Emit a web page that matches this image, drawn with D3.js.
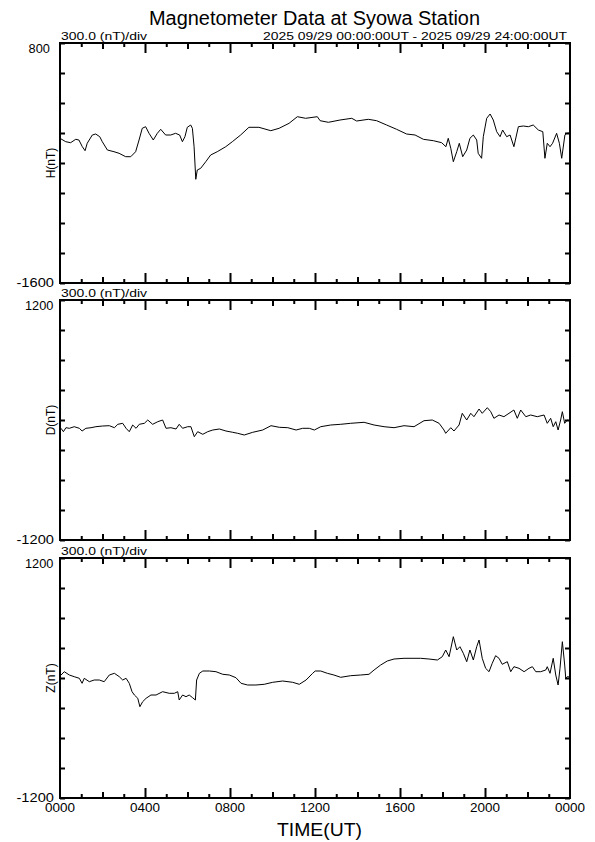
<!DOCTYPE html>
<html><head><meta charset="utf-8">
<script src="https://cdn.jsdelivr.net/npm/d3@7"></script>
<style>
html,body{margin:0;padding:0;background:#fff;}
svg text{font-family:"Liberation Sans",Arial,Helvetica,sans-serif;fill:#000;}
</style></head>
<body>
<script>
// ---- data (hour UT, nT) ----
const hTime=[0,0.27,0.5,0.74,0.89,1.05,1.18,1.28,1.52,1.68,1.87,1.99,2.23,2.54,2.78,3.09,3.33,3.56,3.72,3.87,4.03,4.19,4.39,4.58,4.74,4.97,5.21,5.44,5.63,5.76,5.88,5.99,6.15,6.23,6.31,6.39,6.46,6.62,6.86,7.09,7.4,7.8,8.11,8.5,8.89,9.36,9.92,10.31,10.78,11.17,11.56,12.11,12.24,12.63,13.18,13.73,13.96,14.51,14.9,15.37,15.84,16.31,16.71,17.1,17.57,17.96,18.16,18.27,18.39,18.51,18.67,18.79,18.95,19.14,19.29,19.45,19.61,19.68,19.84,19.92,20.08,20.24,20.39,20.55,20.71,20.83,21.02,21.18,21.36,21.57,21.8,22.04,22.27,22.51,22.72,22.82,22.93,23.06,23.18,23.37,23.5,23.61,23.76,23.84,24];
const hValue=[-153,-187,-197,-163,-170,-237,-277,-203,-120,-110,-137,-187,-270,-287,-303,-337,-337,-287,-170,-53,-37,-103,-170,-103,-63,-120,-120,-103,-120,-187,-137,-43,-20,-53,-237,-563,-470,-453,-387,-320,-287,-237,-187,-120,-43,-43,-77,-53,-3,63,47,63,23,7,30,47,20,37,23,-20,-63,-110,-120,-163,-177,-197,-237,-153,-253,-387,-287,-203,-337,-270,-153,-120,-170,-303,-353,-137,47,90,30,-87,-137,-70,-137,-120,-237,-37,-30,-37,-20,-70,-87,-353,-203,-237,-203,-103,-203,-353,-120,-103,-100];

const dTime=[0.05,0.16,0.28,0.44,0.67,0.91,1.04,1.22,1.46,1.69,2.01,2.32,2.56,2.72,2.95,3.11,3.26,3.42,3.58,3.73,3.97,4.13,4.36,4.6,4.83,4.99,5.22,5.46,5.61,5.77,6.01,6.16,6.32,6.48,6.72,6.95,7.19,7.5,7.81,8.13,8.36,8.67,9.07,9.54,9.93,10.32,10.72,11.11,11.42,11.73,11.97,12.27,12.74,13.21,13.68,14.31,14.78,15.25,15.72,16.19,16.66,17.13,17.52,17.84,18.07,18.15,18.39,18.54,18.78,18.93,19.14,19.33,19.48,19.72,19.87,20.11,20.27,20.42,20.66,20.89,21.13,21.36,21.52,21.68,21.92,22.15,22.46,22.78,22.93,23.09,23.21,23.33,23.44,23.56,23.64,23.75,23.87,24];
const dValue=[-83,-117,-77,-83,-67,-83,-110,-83,-77,-67,-60,-57,-77,-43,-33,-83,-117,-50,-83,-43,-33,0,-43,-17,0,-83,-77,-90,-43,-83,-67,-67,-167,-117,-143,-117,-100,-90,-110,-123,-133,-150,-123,-100,-57,-73,-77,-100,-83,-83,-100,-67,-50,-43,-33,-23,-50,-67,-77,-57,-67,-7,0,-33,-100,-133,-77,-110,-50,67,0,67,33,110,67,123,83,17,50,33,67,100,17,100,33,50,33,50,-33,17,-67,-17,-100,0,83,-33,0,-10];

const zTime=[0.05,0.2,0.44,0.67,0.91,1.04,1.14,1.38,1.61,1.85,2.08,2.32,2.56,2.79,2.95,3.11,3.26,3.39,3.5,3.66,3.76,3.89,4.05,4.28,4.52,4.83,5.14,5.38,5.54,5.61,5.77,5.93,6.08,6.24,6.37,6.43,6.56,6.72,7.03,7.34,7.66,7.97,8.28,8.52,8.83,9.22,9.61,10.01,10.48,10.95,11.26,11.58,11.89,12.01,12.27,12.58,12.89,13.21,13.68,14.15,14.54,14.78,15.09,15.4,15.72,16.19,16.66,16.97,17.36,17.76,17.99,18.15,18.31,18.51,18.67,18.82,18.98,19.14,19.29,19.45,19.61,19.72,19.87,20.03,20.19,20.34,20.5,20.66,20.81,21.05,21.21,21.36,21.6,21.84,22.07,22.23,22.39,22.62,22.86,22.93,23.06,23.21,23.33,23.44,23.53,23.64,23.75,23.8,23.87,24];
const zValue=[30,63,30,13,-3,-53,-3,-37,-20,-20,-37,30,47,13,-20,-3,-53,-137,-170,-203,-287,-237,-203,-170,-170,-137,-153,-153,-137,-220,-170,-187,-170,-197,-220,-20,47,70,70,63,37,30,3,-53,-70,-70,-63,-43,-30,-43,-63,-20,47,70,70,47,30,7,23,30,37,80,130,170,190,197,197,197,190,180,213,280,213,413,280,313,247,163,280,180,313,380,197,97,63,147,223,197,137,163,63,113,97,63,97,113,63,63,80,113,47,197,30,-70,97,363,130,-3,13,10];

const panelNames=["H(nT)","D(nT)","Z(nT)"];
const panelDomains=[[-1600,800],[-1200,1200],[-1200,1200]];
const panelData=[[hTime,hValue],[dTime,dValue],[zTime,zValue]];
const xTickHours=d3.range(0,25,4);
const xTickLabels=["0000","0400","0800","1200","1600","2000","0000"];
const titleText="Magnetometer Data at Syowa Station";
const scaleText="300.0 (nT)/div";
const rangeText="2025 09/29 00:00:00UT - 2025 09/29 24:00:00UT";
const xTitle="TIME(UT)";

// ---- layout ----
const W=595,Hh=842;
const left=60,right=570;
const tops=[43,300,558],ph=240;

const svg=d3.select("body").append("svg").attr("width",W).attr("height",Hh);
const x=d3.scaleLinear().domain([0,24]).range([left,right]);

svg.append("text").attr("x",314.5).attr("y",25).attr("text-anchor","middle")
  .attr("font-size",20).attr("textLength",331).attr("lengthAdjust","spacingAndGlyphs").text(titleText);

panelDomains.forEach((dom,i)=>{
  const top=tops[i],bot=top+ph;
  const y=d3.scaleLinear().domain(dom).range([bot,top]);
  const g=svg.append("g");
  const yt=d3.range(dom[0],dom[1]+1,300);
  // ticks
  const tickStyle=sel=>{sel.select(".domain").remove();sel.selectAll("line").attr("stroke","#000").attr("stroke-width",2);sel.selectAll("text").remove();};
  g.append("g").attr("transform",`translate(${left},0)`).call(d3.axisLeft(y).tickValues(yt).tickSize(-5).tickFormat("")).call(tickStyle);
  g.append("g").attr("transform",`translate(${right},0)`).call(d3.axisRight(y).tickValues(yt).tickSize(-5).tickFormat("")).call(tickStyle);
  const tickSets=[[d3.range(1,24,2),4],[d3.range(2,24,4),6],[d3.range(4,24,4),10]];
  tickSets.forEach(([vals,len])=>{
    g.append("g").attr("transform",`translate(0,${top})`).call(d3.axisTop(x).tickValues(vals).tickSize(-len).tickFormat("")).call(tickStyle);
    g.append("g").attr("transform",`translate(0,${bot})`).call(d3.axisBottom(x).tickValues(vals).tickSize(-len).tickFormat("")).call(tickStyle);
  });
  // data line
  const [tt,vv]=panelData[i];
  const pts=tt.map((t,k)=>[t,vv[k]]);
  g.append("path").datum(pts).attr("fill","none").attr("stroke","#000").attr("stroke-width",1)
    .attr("d",d3.line().x(d=>x(d[0])).y(d=>y(d[1])));
  // frame
  g.append("rect").attr("x",left).attr("y",top).attr("width",right-left).attr("height",ph)
    .attr("fill","none").attr("stroke","#000").attr("stroke-width",2);
  // labels
  const lab=(v)=>String(v);
  [[dom[1],top+10],[dom[0],bot+3.8]].forEach(([v,yy])=>{
    const s=lab(v), neg=s[0]==="-";
    const digits=s.replace("-","").length;
    svg.append("text").attr("x",neg?35.2:39.2).attr("y",yy).attr("text-anchor","middle")
      .attr("font-size",12).attr("textLength",digits*7.1+(neg?9:0)).attr("lengthAdjust","spacingAndGlyphs").text(s);
  });
  svg.append("text").attr("x",left+1).attr("y",top-3.5).attr("font-size",11)
    .attr("textLength",86).attr("lengthAdjust","spacingAndGlyphs").text(scaleText);
  if(i===0){
    svg.append("text").attr("x",567).attr("y",top-3.5).attr("text-anchor","end").attr("font-size",11)
      .attr("textLength",304).attr("lengthAdjust","spacingAndGlyphs").text(rangeText);
  }
  svg.append("text").attr("transform",`translate(55,${(top+bot)/2}) rotate(-90)`).attr("text-anchor","middle")
    .attr("font-size",12).text(panelNames[i]);
});

// x tick labels
const bot3=tops[2]+ph;
xTickHours.forEach((h,k)=>{
  svg.append("text").attr("x",x(h)).attr("y",bot3+14).attr("text-anchor","middle").attr("font-size",12)
    .attr("textLength",30).attr("lengthAdjust","spacingAndGlyphs").text(xTickLabels[k]);
});
svg.append("text").attr("x",319.5).attr("y",836).attr("text-anchor","middle").attr("font-size",18)
  .attr("textLength",85).attr("lengthAdjust","spacingAndGlyphs").text(xTitle);
</script>
</body></html>
